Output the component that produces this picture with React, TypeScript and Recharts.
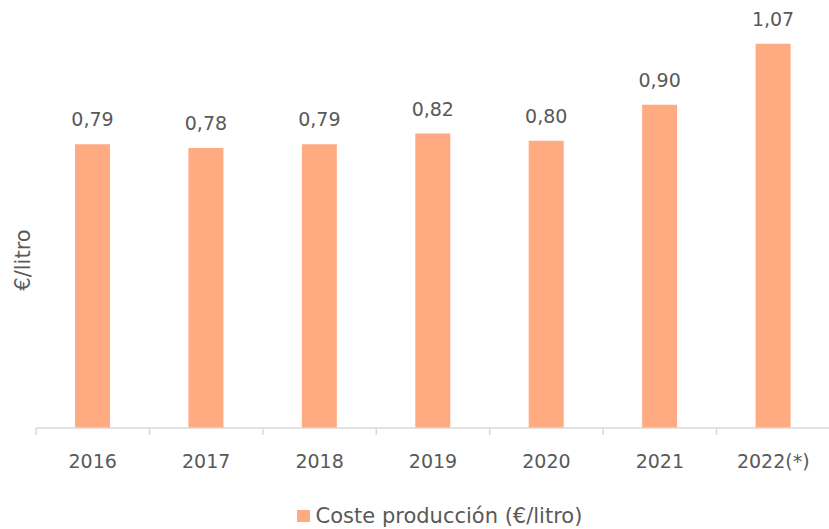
import { BarChart, Bar, XAxis, YAxis, LabelList, Legend } from "recharts";

const years = ["2016", "2017", "2018", "2019", "2020", "2021", "2022(*)"];
const costs = [0.79, 0.78, 0.79, 0.82, 0.8, 0.9, 1.07];

const data = years.map((year, i) => ({ year, cost: costs[i] }));

const FONT = "'DejaVu Sans', sans-serif";
const TEXT = "#595959";
const BAR = "#FFAA80";
const W = 830;
const LEFT = 36;
const BAND = (W - LEFT) / years.length;

const fmt = (v: any) => Number(v).toFixed(2).replace(".", ",");

const YearTick = ({ x, y, payload }: any) => (
  <g>
    <line x1={x - BAND / 2} y1={y} x2={x - BAND / 2} y2={y + 7} stroke="#d9d9d9" strokeWidth={1.5} />
    <text x={x} y={y + 40} textAnchor="middle" fill={TEXT} fontSize={19} fontFamily={FONT}>
      {payload.value}
    </text>
  </g>
);

const LegendBox = () => (
  <div
    style={{
      display: "flex",
      justifyContent: "center",
      alignItems: "center",
      height: 24,
      lineHeight: "24px",
      paddingLeft: 49,
      fontFamily: FONT,
      fontSize: 21,
      color: TEXT,
    }}
  >
    <span style={{ display: "inline-block", width: 13, height: 12, background: BAR, marginRight: 6 }} />
    Coste producción (€/litro)
  </div>
);

export default function App() {
  return (
    <div style={{ position: "absolute", left: 0, top: 0, width: 829, height: 529, overflow: "hidden", background: "#fff" }}>
      <BarChart width={W} height={529} data={data} margin={{ top: 33, right: 0, left: 0, bottom: 17 }} barCategoryGap={0}>
        <YAxis
          domain={[0, 1.1]}
          width={LEFT}
          axisLine={false}
          tickLine={false}
          tick={false}
          label={{
            content: () => (
              <text x={30} y={260} transform="rotate(-90 30 260)" textAnchor="middle" fill={TEXT} fontSize={21} fontFamily={FONT}>
                €/litro
              </text>
            ),
          }}
        />
        <XAxis
          dataKey="year"
          height={60}
          axisLine={{ stroke: "#d9d9d9", strokeWidth: 1.5 }}
          tickLine={false}
          tickSize={0}
          tickMargin={0}
          interval={0}
          tick={<YearTick />}
        />
        <Legend verticalAlign="bottom" height={24} content={<LegendBox />} wrapperStyle={{ top: 504 }} />
        <Bar dataKey="cost" name="Coste producción (€/litro)" fill={BAR} barSize={35} isAnimationActive={false}>
          <LabelList dataKey="cost" position="top" offset={18} formatter={fmt} fill={TEXT} fontSize={19} fontFamily={FONT} />
        </Bar>
      </BarChart>
    </div>
  );
}
